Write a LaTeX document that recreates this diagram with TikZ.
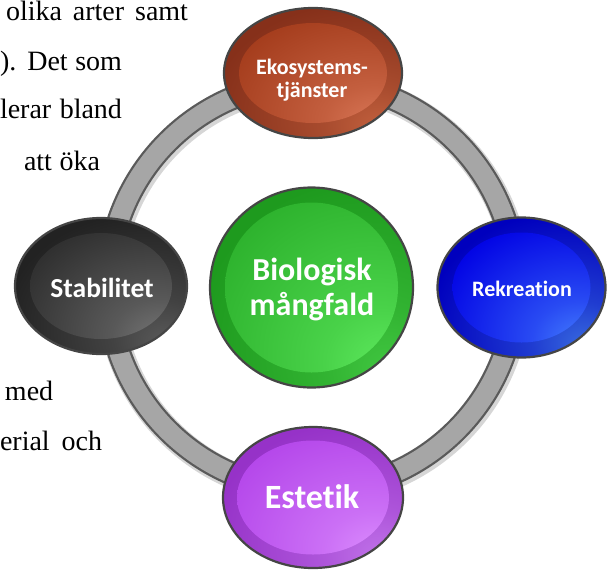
\documentclass[tikz,border=0pt]{standalone}
\usepackage{fontspec}
\setmainfont{Liberation Serif}
\newfontfamily\calfont{Carlito}[Ligatures=NoCommon]
\usetikzlibrary{shapes.geometric}

\definecolor{outl}{HTML}{454545}
\definecolor{ringfill}{HTML}{A6A6A6}
\definecolor{ringline}{HTML}{5A5A5A}
% Ekosystem
\definecolor{ekoRimB}{HTML}{86301A}\definecolor{ekoRimL}{HTML}{C4623F}
\definecolor{ekoInB}{HTML}{A33B1B}\definecolor{ekoInL}{HTML}{DE7C5C}
% Rekreation
\definecolor{rekRimB}{HTML}{0000BE}\definecolor{rekRimL}{HTML}{3A6EE0}
\definecolor{rekInB}{HTML}{0000E4}\definecolor{rekInL}{HTML}{4A88FF}
% Stabilitet
\definecolor{staRimB}{HTML}{222222}\definecolor{staRimL}{HTML}{5C5C5C}
\definecolor{staInB}{HTML}{2D2D2D}\definecolor{staInL}{HTML}{7C7C7C}
% Biologisk
\definecolor{bioRimB}{HTML}{1E9A1E}\definecolor{bioRimL}{HTML}{42C842}
\definecolor{bioInB}{HTML}{2DB22D}\definecolor{bioInL}{HTML}{60EC60}
% Estetik
\definecolor{estRimB}{HTML}{9632C8}\definecolor{estRimL}{HTML}{C274EA}
\definecolor{estInB}{HTML}{B446EA}\definecolor{estInL}{HTML}{DE92FF}

\newcommand\mkglow[3]{%
  \pgfdeclareradialshading{#1}{\pgfpoint{20bp}{-22bp}}{%
    color(0bp)=(#3); color(14bp)=(#3!55!#2); color(40bp)=(#2); color(100bp)=(#2)}}
\mkglow{ekoRim}{ekoRimB}{ekoRimL}\mkglow{ekoIn}{ekoInB}{ekoInL}
\mkglow{rekRim}{rekRimB}{rekRimL}\mkglow{rekIn}{rekInB}{rekInL}
\mkglow{staRim}{staRimB}{staRimL}\mkglow{staIn}{staInB}{staInL}
\mkglow{bioRim}{bioRimB}{bioRimL}\mkglow{bioIn}{bioInB}{bioInL}
\mkglow{estRim}{estRimB}{estRimL}\mkglow{estIn}{estInB}{estInL}

\begin{document}
\begin{tikzpicture}[x=1pt,y=-1pt,
  bgtext/.style={font=\fontsize{28}{30}\selectfont, anchor=base west, inner sep=0pt, outer sep=0pt},
  bubble/.style={ellipse, draw=outl, line width=2.2pt, inner sep=0pt},
  lbl/.style={text=white, inner sep=0pt, align=center, anchor=base}
]
\useasboundingbox (0,0) rectangle (612,571);

% background document text
\node[bgtext] (t1) at (6,20)  {\makebox[182pt][s]{olika arter samt}};
\node[bgtext] (t2) at (0,70)  {\makebox[122pt][s]{). Det som}};
\node[bgtext] (t3) at (0,118) {\makebox[122pt][s]{lerar bland}};
\node[bgtext] (t4) at (24,170) {\makebox[76pt][s]{att öka}};
\node[bgtext] (t5) at (5,400) {med};
\node[bgtext] (t6) at (0,450) {\makebox[102pt][s]{erial och}};

% ring
\coordinate (rc) at (312,286);
\draw[black, opacity=0.16, line width=27pt] ([shift={(1.5,2)}]rc) circle [radius=204pt];
\draw[ringline, line width=24pt] (rc) circle [radius=204pt];
\draw[ringfill, line width=19.5pt] (rc) circle [radius=204pt];

% bubbles
\node[bubble, minimum width=178pt, minimum height=130pt, shading=ekoRim,
  path picture={\path[shading=ekoIn] (path picture bounding box.center) ellipse [x radius=74pt, y radius=50pt];}]
  (eko) at (313,73) {};
\node[bubble, minimum width=168pt, minimum height=140pt, shading=rekRim,
  path picture={\path[shading=rekIn] (path picture bounding box.center) ellipse [x radius=69pt, y radius=55pt];}]
  (rek) at (521.5,287.5) {};
\node[bubble, minimum width=172pt, minimum height=136pt, shading=staRim,
  path picture={\path[shading=staIn] (path picture bounding box.center) ellipse [x radius=71pt, y radius=53pt];}]
  (sta) at (101,286) {};
\node[bubble, minimum width=203pt, minimum height=200pt, shading=bioRim,
  path picture={\path[shading=bioIn] (path picture bounding box.center) ellipse [x radius=86.5pt, y radius=85pt];}]
  (bio) at (311.5,287.5) {};
\node[bubble, minimum width=180pt, minimum height=141pt, shading=estRim,
  path picture={\path[shading=estIn] (path picture bounding box.center) ellipse [x radius=76pt, y radius=57pt];}]
  (est) at (313,497.5) {};

% labels
\node[lbl, font=\calfont\bfseries\fontsize{22}{23}\selectfont] (ekoT) at (312,97) {Ekosystems-\\tjänster};
\node[lbl, font=\calfont\bfseries\fontsize{22}{23}\selectfont] (rekT) at (522,296) {Rekreation};
\node[lbl, font=\calfont\bfseries\fontsize{27.5}{28}\selectfont] (staT) at (102,297) {Stabilitet};
\node[lbl, font=\calfont\bfseries\fontsize{32}{35}\selectfont] (bioT) at (312,315) {Biologisk\\mångfald};
\node[lbl, font=\calfont\bfseries\fontsize{34}{35}\selectfont] (estT) at (312,508) {Estetik};
\end{tikzpicture}
\end{document}
